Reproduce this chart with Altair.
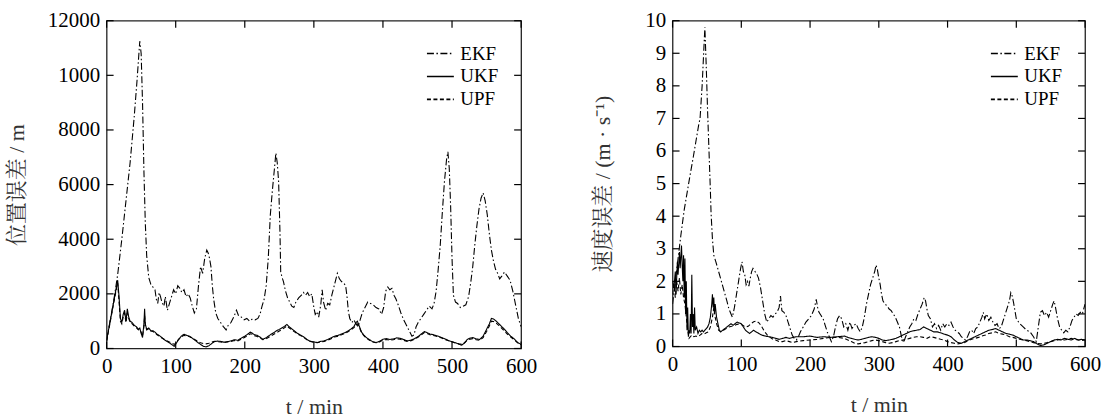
import altair as alt
import pandas as pd

SERIES = ["EKF", "UKF", "UPF"]
DASHES = [[7, 2.5, 1.5, 2.5], [1, 0], [4, 2.5]]

x_ticks = [0, 100, 200, 300, 400, 500, 600]
pos_ticks = [0, 2000, 4000, 6000, 8000, 10000, 12000]
vel_ticks = [0, 1, 2, 3, 4, 5, 6, 7, 8, 9, 10]

pos_ekf = [(0, 300), (5, 1000), (10, 1700), (16, 2700), (22, 4000), (28, 5400), (34, 6800), (40, 8500), (44, 9800),
           (48, 11250), (50, 10800), (52, 9000), (54, 6500), (56, 4600), (58, 3400), (61, 2600), (64, 2350), (67, 2250),
           (70, 2150), (72, 1800), (74, 1650), (76, 2050), (78, 1900), (80, 1700), (83, 1550), (85, 1900), (88, 1400),
           (91, 1650), (94, 1900), (97, 2150), (100, 2000), (103, 2300), (106, 2200), (109, 2050), (112, 2150),
           (115, 1900), (118, 2000), (121, 1850), (124, 1550), (127, 1300), (130, 1450), (133, 2300), (136, 3000),
           (139, 2750), (142, 3300), (145, 3600), (147, 3500), (149, 3300), (151, 3000), (153, 2300), (155, 1800),
           (158, 1300), (161, 1100), (165, 950), (169, 800), (173, 680), (176, 850), (180, 950), (184, 1150),
           (188, 1400), (191, 1200), (195, 1150), (199, 1050), (203, 1100), (207, 1000), (211, 1080), (215, 1050),
           (219, 1100), (222, 1250), (225, 1550), (228, 1800), (231, 2300), (234, 3300), (237, 4900), (240, 5800),
           (243, 6600), (245, 7150), (247, 6800), (249, 6100), (251, 4200), (252, 2800), (254, 2600), (256, 2450),
           (259, 2100), (262, 1850), (265, 1700), (268, 1550), (271, 1500), (274, 1700), (278, 1850), (282, 1950),
           (285, 2050), (288, 1950), (291, 2050), (294, 1900), (297, 2000), (300, 1500), (302, 1250), (305, 1350),
           (307, 1150), (310, 1600), (312, 2150), (314, 1700), (317, 1400), (320, 1650), (323, 1600), (326, 1950),
           (329, 2250), (332, 2550), (334, 2750), (337, 2550), (340, 2450), (343, 2400), (346, 2300), (348, 1900),
           (350, 1350), (352, 1100), (355, 950), (358, 1050), (361, 900), (364, 800), (367, 1050), (370, 1300),
           (374, 1500), (378, 1700), (382, 1650), (386, 1600), (390, 1500), (394, 1450), (398, 1250), (401, 1500),
           (404, 2100), (407, 2250), (410, 2150), (413, 2200), (416, 1950), (419, 1800), (422, 1600), (426, 1300),
           (430, 1050), (434, 850), (438, 650), (442, 450), (445, 500), (448, 800), (451, 950), (455, 1100),
           (459, 1250), (463, 1400), (467, 1550), (471, 1450), (474, 1650), (477, 2100), (480, 2900), (483, 3800),
           (486, 5000), (489, 6100), (492, 6900), (494, 7200), (496, 6600), (498, 5200), (500, 3300), (502, 1950),
           (505, 1700), (508, 1650), (512, 1500), (516, 1550), (520, 1600), (524, 1900), (527, 2400), (530, 3000),
           (533, 3800), (536, 4500), (539, 5100), (542, 5500), (545, 5700), (548, 5400), (551, 4900), (554, 4200),
           (557, 3600), (560, 3200), (563, 2900), (566, 2750), (569, 2550), (572, 2650), (576, 2800), (580, 2650),
           (584, 2500), (588, 2100), (592, 1600), (596, 1100), (600, 800)]

pos_ukf = [(0, 300), (4, 850), (8, 1400), (12, 1950), (16, 2500), (18, 1900), (20, 1100), (22, 950), (24, 1250),
           (26, 1400), (28, 1000), (30, 1450), (32, 1150), (34, 1000), (37, 950), (40, 850), (43, 800), (46, 700),
           (48, 750), (50, 550), (52, 400), (54, 900), (55, 1450), (56, 900), (58, 700), (61, 750), (64, 650),
           (67, 650), (70, 600), (73, 520), (76, 480), (79, 420), (82, 350), (86, 280), (90, 220), (94, 150), (98, 80),
           (101, 200), (104, 320), (108, 450), (112, 520), (116, 480), (120, 450), (124, 380), (128, 300), (132, 220),
           (136, 150), (140, 80), (144, 60), (148, 100), (152, 180), (156, 250), (160, 270), (165, 260), (170, 230),
           (175, 250), (180, 280), (185, 320), (190, 300), (195, 380), (200, 450), (204, 520), (208, 600), (211, 560),
           (214, 500), (218, 480), (222, 420), (226, 340), (230, 380), (234, 450), (238, 520), (242, 580), (246, 650),
           (250, 700), (254, 760), (258, 820), (261, 880), (264, 800), (268, 720), (272, 640), (276, 560), (280, 500),
           (285, 430), (290, 330), (295, 260), (300, 240), (305, 220), (310, 260), (315, 280), (320, 330), (325, 390),
           (330, 450), (335, 480), (340, 530), (345, 580), (350, 650), (354, 720), (358, 800), (361, 950), (363, 1000),
           (366, 800), (369, 600), (372, 500), (376, 400), (380, 330), (385, 250), (390, 220), (395, 260), (400, 340),
           (405, 360), (410, 330), (415, 350), (420, 390), (425, 370), (430, 330), (435, 280), (440, 300), (445, 350),
           (450, 420), (455, 520), (460, 620), (464, 580), (468, 530), (472, 510), (476, 480), (480, 450), (485, 400),
           (490, 350), (495, 290), (500, 250), (505, 210), (510, 160), (514, 120), (518, 200), (522, 330), (526, 380),
           (530, 400), (535, 350), (540, 330), (545, 450), (550, 700), (554, 900), (557, 1100), (560, 1080),
           (564, 1000), (568, 900), (572, 800), (576, 700), (580, 580), (585, 450), (590, 350), (595, 220), (600, 150)]

pos_upf = [(0, 280), (4, 800), (8, 1350), (12, 1900), (16, 2400), (18, 1700), (20, 1000), (22, 900), (24, 1150),
           (26, 1300), (28, 950), (30, 1300), (32, 1100), (34, 950), (37, 900), (40, 820), (43, 760), (46, 680),
           (48, 700), (50, 600), (52, 450), (54, 800), (55, 1200), (56, 850), (58, 680), (61, 720), (64, 640),
           (67, 620), (70, 580), (73, 500), (76, 460), (79, 400), (82, 360), (86, 300), (90, 250), (94, 200), (98, 150),
           (101, 220), (104, 330), (108, 420), (112, 480), (116, 460), (120, 430), (124, 380), (128, 320), (132, 260),
           (136, 210), (140, 180), (144, 170), (148, 190), (152, 230), (156, 260), (160, 250), (165, 240), (170, 220),
           (175, 240), (180, 260), (185, 290), (190, 280), (195, 340), (200, 410), (204, 470), (208, 540), (211, 520),
           (214, 470), (218, 440), (222, 390), (226, 320), (230, 340), (234, 400), (238, 460), (242, 520), (246, 580),
           (250, 640), (254, 700), (258, 770), (261, 830), (264, 760), (268, 690), (272, 610), (276, 540), (280, 480),
           (285, 410), (290, 320), (295, 260), (300, 230), (305, 210), (310, 240), (315, 260), (320, 300), (325, 360),
           (330, 420), (335, 450), (340, 500), (345, 550), (350, 620), (354, 690), (358, 760), (361, 880), (363, 900),
           (366, 760), (369, 580), (372, 480), (376, 380), (380, 310), (385, 240), (390, 210), (395, 240), (400, 310),
           (405, 330), (410, 300), (415, 320), (420, 350), (425, 340), (430, 300), (435, 260), (440, 280), (445, 330),
           (450, 400), (455, 490), (460, 580), (464, 550), (468, 500), (472, 480), (476, 460), (480, 430), (485, 380),
           (490, 330), (495, 280), (500, 240), (505, 200), (510, 170), (514, 150), (518, 210), (522, 300), (526, 340),
           (530, 360), (535, 320), (540, 300), (545, 400), (550, 620), (554, 820), (557, 1000), (560, 990), (564, 930),
           (568, 840), (572, 740), (576, 640), (580, 530), (585, 420), (590, 320), (595, 210), (600, 140)]

vel_ekf = [(0, 1.3), (4, 2.0), (8, 2.7), (12, 3.4), (17, 4.2), (21, 4.7), (25, 5.2), (30, 5.8), (34, 6.3), (38, 6.8),
           (40, 7.0), (43, 8.0), (45, 8.9), (47, 9.8), (49, 8.6), (51, 7.2), (53, 6.0), (55, 4.8), (56, 4.1), (58, 3.3),
           (60, 2.8), (63, 2.6), (67, 2.3), (71, 2.0), (75, 1.7), (79, 1.4), (82, 1.15), (85, 1.0), (87, 0.9), (90, 1.2),
           (93, 1.6), (96, 2.0), (99, 2.4), (101, 2.6), (103, 2.3), (105, 2.2), (107, 1.9), (109, 2.0), (111, 1.85),
           (113, 2.1), (115, 2.3), (117, 2.4), (120, 2.3), (122, 2.25), (125, 2.1), (128, 1.8), (131, 1.4), (134, 1.0),
           (137, 0.75), (140, 0.85), (143, 0.95), (146, 0.9), (149, 1.0), (152, 1.05), (155, 1.2), (157, 1.55),
           (159, 1.1), (162, 1.05), (165, 0.95), (168, 0.75), (171, 0.55), (174, 0.35), (177, 0.25), (180, 0.2),
           (183, 0.3), (186, 0.45), (190, 0.6), (194, 0.75), (198, 0.85), (202, 0.95), (206, 1.15), (209, 1.45),
           (211, 1.2), (213, 1.05), (216, 0.95), (219, 0.85), (222, 0.65), (225, 0.45), (228, 0.3), (231, 0.15),
           (234, 0.3), (237, 0.6), (240, 0.85), (243, 0.95), (246, 0.85), (249, 0.6), (252, 0.7), (255, 0.5),
           (258, 0.75), (261, 0.55), (264, 0.65), (267, 0.7), (270, 0.55), (273, 0.45), (276, 0.6), (279, 0.9),
           (282, 1.3), (285, 1.6), (288, 1.9), (291, 2.1), (294, 2.3), (296, 2.5), (298, 2.35), (300, 2.1), (302, 1.9),
           (304, 1.6), (306, 1.4), (309, 1.3), (312, 1.25), (315, 1.15), (318, 1.1), (321, 1.0), (324, 0.9),
           (327, 0.75), (330, 0.6), (333, 0.3), (336, 0.12), (339, 0.3), (342, 0.45), (345, 0.6), (348, 0.7),
           (351, 0.85), (354, 0.8), (357, 1.0), (360, 1.15), (363, 1.3), (366, 1.5), (368, 1.4), (370, 1.15),
           (372, 0.95), (375, 0.85), (378, 0.6), (381, 0.7), (384, 0.55), (387, 0.65), (390, 0.5), (393, 0.7),
           (396, 0.6), (399, 0.7), (402, 0.65), (405, 0.75), (408, 0.6), (411, 0.5), (414, 0.45), (417, 0.4),
           (420, 0.3), (423, 0.25), (426, 0.2), (429, 0.3), (432, 0.45), (435, 0.5), (438, 0.4), (441, 0.55),
           (444, 0.6), (447, 0.75), (450, 0.9), (452, 1.05), (454, 0.85), (457, 1.0), (460, 0.8), (463, 0.9),
           (466, 0.75), (469, 0.65), (472, 0.7), (475, 0.55), (478, 0.6), (481, 0.8), (484, 1.0), (487, 1.2),
           (490, 1.4), (492, 1.65), (494, 1.55), (496, 1.35), (498, 1.1), (500, 0.85), (505, 0.7), (510, 0.6),
           (515, 0.5), (520, 0.45), (525, 0.3), (529, 0.15), (532, 0.6), (535, 1.05), (538, 1.1), (541, 0.95),
           (544, 1.05), (547, 0.9), (550, 1.1), (553, 1.3), (555, 1.4), (557, 1.2), (560, 0.85), (563, 0.6),
           (566, 0.5), (569, 0.42), (572, 0.5), (575, 0.45), (578, 0.6), (581, 0.8), (584, 0.9), (587, 1.0),
           (590, 0.95), (593, 1.05), (596, 1.0), (600, 1.3)]

vel_ukf = [(0, 2.0), (2, 1.8), (4, 2.3), (5, 1.6), (7, 2.6), (8, 2.2), (10, 2.9), (11, 2.4), (13, 3.1), (14, 2.5),
           (15, 2.0), (16, 2.8), (17, 1.5), (18, 2.7), (19, 1.0), (20, 2.0), (21, 0.5), (22, 1.2), (23, 0.3),
           (24, 0.5), (25, 0.4), (26, 1.0), (27, 0.4), (28, 2.2), (29, 0.6), (30, 1.0), (31, 0.4), (32, 1.2),
           (33, 0.5), (35, 0.6), (37, 0.4), (39, 0.5), (41, 0.45), (43, 0.5), (45, 0.45), (47, 0.5), (49, 0.55),
           (51, 0.6), (53, 0.7), (55, 0.9), (57, 1.3), (58, 1.6), (59, 1.2), (60, 1.5), (61, 1.0), (62, 1.3),
           (64, 0.9), (66, 0.7), (68, 0.5), (70, 0.45), (73, 0.5), (76, 0.55), (79, 0.6), (82, 0.65), (85, 0.7),
           (88, 0.65), (91, 0.7), (94, 0.75), (97, 0.72), (100, 0.7), (103, 0.6), (106, 0.5), (109, 0.45),
           (112, 0.4), (115, 0.45), (118, 0.5), (121, 0.45), (124, 0.42), (127, 0.38), (130, 0.35), (135, 0.32),
           (140, 0.3), (145, 0.28), (150, 0.25), (155, 0.22), (160, 0.25), (165, 0.28), (170, 0.25), (175, 0.28),
           (180, 0.3), (190, 0.3), (200, 0.32), (210, 0.28), (220, 0.3), (230, 0.28), (240, 0.3), (250, 0.32),
           (255, 0.28), (260, 0.25), (265, 0.22), (270, 0.2), (275, 0.22), (280, 0.25), (285, 0.28), (290, 0.3),
           (295, 0.28), (300, 0.25), (305, 0.2), (310, 0.18), (315, 0.2), (320, 0.22), (325, 0.25), (330, 0.3),
           (335, 0.35), (340, 0.4), (345, 0.45), (350, 0.48), (355, 0.5), (360, 0.52), (365, 0.6), (370, 0.55),
           (375, 0.5), (380, 0.45), (385, 0.45), (390, 0.42), (395, 0.38), (400, 0.35), (405, 0.3), (410, 0.2),
           (415, 0.12), (420, 0.1), (425, 0.15), (430, 0.2), (435, 0.25), (440, 0.3), (445, 0.35), (450, 0.4),
           (455, 0.45), (460, 0.5), (465, 0.52), (470, 0.55), (475, 0.5), (480, 0.45), (485, 0.4), (490, 0.38),
           (495, 0.35), (500, 0.3), (505, 0.25), (510, 0.2), (515, 0.2), (520, 0.18), (525, 0.15), (530, 0.08),
           (535, 0.03), (540, 0.05), (545, 0.1), (550, 0.15), (555, 0.2), (560, 0.22), (565, 0.2), (570, 0.25),
           (575, 0.22), (580, 0.2), (585, 0.25), (590, 0.2), (595, 0.22), (600, 0.2)]

vel_upf = [(0, 1.6), (2, 1.9), (4, 1.5), (6, 2.0), (8, 1.7), (10, 2.1), (12, 1.6), (14, 1.9), (16, 1.5), (18, 1.3),
           (20, 0.9), (22, 0.5), (24, 0.25), (26, 0.3), (28, 0.35), (31, 0.3), (34, 0.32), (37, 0.3), (40, 0.35),
           (43, 0.4), (46, 0.38), (49, 0.42), (52, 0.45), (55, 0.6), (58, 0.9), (60, 1.2), (62, 0.9), (64, 0.7),
           (67, 0.5), (70, 0.45), (74, 0.5), (78, 0.55), (82, 0.6), (86, 0.62), (90, 0.65), (94, 0.68), (98, 0.7),
           (102, 0.65), (106, 0.6), (110, 0.62), (114, 0.7), (118, 0.76), (122, 0.78), (126, 0.72), (130, 0.6),
           (134, 0.45), (138, 0.35), (142, 0.28), (146, 0.22), (150, 0.2), (155, 0.15), (160, 0.15), (165, 0.18),
           (170, 0.15), (175, 0.12), (180, 0.15), (190, 0.18), (200, 0.2), (210, 0.22), (220, 0.25), (230, 0.28),
           (240, 0.28), (250, 0.25), (255, 0.2), (260, 0.15), (265, 0.1), (270, 0.08), (275, 0.1), (280, 0.12),
           (285, 0.15), (290, 0.18), (295, 0.2), (300, 0.18), (305, 0.15), (310, 0.12), (315, 0.1), (320, 0.12),
           (325, 0.15), (330, 0.18), (335, 0.2), (340, 0.22), (345, 0.25), (350, 0.28), (355, 0.3), (360, 0.3),
           (365, 0.28), (370, 0.25), (375, 0.3), (380, 0.28), (385, 0.25), (390, 0.22), (395, 0.2), (400, 0.15),
           (405, 0.12), (410, 0.1), (415, 0.08), (420, 0.1), (425, 0.12), (430, 0.18), (435, 0.22), (440, 0.25),
           (445, 0.28), (450, 0.32), (455, 0.35), (460, 0.4), (465, 0.42), (470, 0.45), (475, 0.4), (480, 0.38),
           (485, 0.35), (490, 0.3), (495, 0.28), (500, 0.25), (505, 0.22), (510, 0.2), (515, 0.18), (520, 0.15),
           (525, 0.12), (530, 0.1), (535, 0.08), (540, 0.1), (545, 0.12), (550, 0.15), (555, 0.18), (560, 0.2),
           (565, 0.22), (570, 0.2), (575, 0.22), (580, 0.25), (585, 0.22), (590, 0.2), (595, 0.18), (600, 0.2)]

FONT = "Liberation Serif, Noto Serif CJK SC, Noto Sans CJK SC"


def long_df(groups):
    rows = []
    for name, pts in zip(SERIES, groups):
        for t, v in pts:
            rows.append({"t": t, "v": v, "series": name})
    return pd.DataFrame(rows)


def panel(groups, w, h, ymax, yticks, ytitle, title_pad, label_expr):
    x = alt.X("t:Q", scale=alt.Scale(domain=[0, 600], nice=False),
              axis=alt.Axis(values=x_ticks, title="t / min", labelFlush=False, titlePadding=20))
    y = alt.Y("v:Q", scale=alt.Scale(domain=[0, ymax], nice=False),
              axis=alt.Axis(values=yticks, title=ytitle, format="d", labelExpr=label_expr,
                            titlePadding=title_pad))
    df = long_df(groups)
    lines = alt.Chart(df).mark_line(color="black", strokeWidth=1.1, clip=True).encode(
        x=x, y=y,
        strokeDash=alt.StrokeDash(
            "series:N",
            scale=alt.Scale(domain=SERIES, range=DASHES),
            legend=alt.Legend(title=None, orient="top-right", offset=22,
                              symbolType="M-1.35,0H1.35", symbolSize=400,
                              symbolStrokeWidth=1.6, symbolStrokeColor="black",
                              labelFont=FONT, labelFontSize=19, labelColor="black", rowPadding=2,
                              labelOffset=9)),
    )
    xt = pd.DataFrame({"t": x_ticks})
    yt = pd.DataFrame({"v": yticks})
    top = alt.Chart(xt).mark_rule(color="black", strokeWidth=1.2).encode(x=x, y=alt.value(0), y2=alt.value(7))
    bot = alt.Chart(xt).mark_rule(color="black", strokeWidth=1.2).encode(x=x, y=alt.value(h), y2=alt.value(h - 7))
    lft = alt.Chart(yt).mark_rule(color="black", strokeWidth=1.2).encode(y=y, x=alt.value(0), x2=alt.value(7))
    rgt = alt.Chart(yt).mark_rule(color="black", strokeWidth=1.2).encode(y=y, x=alt.value(w), x2=alt.value(w - 7))
    return alt.layer(lines, top, bot, lft, rgt).properties(width=w, height=h)


left = panel([pos_ekf, pos_ukf, pos_upf], 416, 329, 12000, pos_ticks, "位置误差 / m", 19,
             "datum.value == 10000 ? '1000' : datum.label")
right = panel([vel_ekf, vel_ukf, vel_upf], 414, 327, 10, vel_ticks, "速度误差 / (m · s⁻¹)", 30,
              "datum.label")

chart = alt.hconcat(left, right, spacing=53).resolve_legend(strokeDash="independent").resolve_scale(
    strokeDash="independent"
).properties(
    padding={"left": 4, "top": 8, "right": 0, "bottom": 0}
).configure(background="white").configure_view(stroke="#222", strokeWidth=1.3).configure_axis(
    domain=False, ticks=False, grid=False, labelFont=FONT, labelFontSize=21, labelColor="black",
    labelPadding=7, labelOverlap=False, titleFont=FONT, titleFontSize=22, titleFontWeight="normal",
    titleColor="#333"
)

chart.save("out.html", embed_options={"renderer": "svg", "actions": False})
